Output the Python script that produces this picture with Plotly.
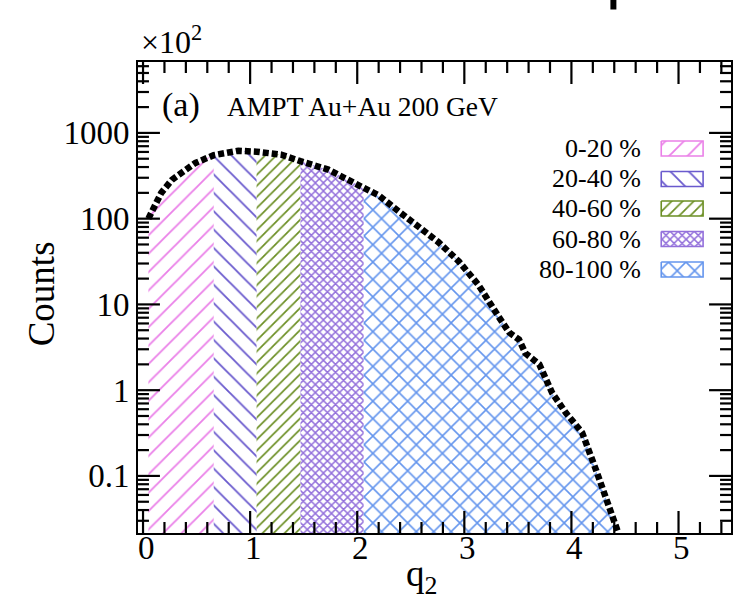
import numpy as np
import plotly.graph_objects as go

# ---------------- data (counts in units of 10^2) ----------------
q2 = [0.05, 0.17, 0.27, 0.49, 0.66, 0.89, 1.06, 1.29, 1.47, 1.73, 2.06, 2.20, 2.39,
      2.57, 2.76, 2.95, 3.13, 3.32, 3.42, 3.51, 3.57, 3.70, 3.82, 3.95, 4.10, 4.23,
      4.32, 4.43]
counts = [100, 200, 284, 447, 550, 620, 604, 558, 468, 373, 229, 187, 121,
          81, 53, 31.6, 17, 7.2, 4.7, 3.9, 2.7, 2.0, 0.93, 0.54, 0.32, 0.117,
          0.056, 0.023]

classes = ["0-20 %", "20-40 %", "40-60 %", "60-80 %", "80-100 %"]
class_edges = [0.05, 0.66, 1.06, 1.47, 2.06, 4.43]   # q2 boundaries of the classes

x_ticks = [0, 1, 2, 3, 4, 5]
y_ticks = [0.1, 1, 10, 100, 1000]

# ---------------- styles ----------------
colors = ["#ea80e8", "#6a5acd", "#6b8e23", "#9370db", "#6495ed"]
patterns = [
    dict(shape="/", size=13, solidity=0.14),
    dict(shape="\\", size=13, solidity=0.14),
    dict(shape="/", size=7.8, solidity=0.22),
    dict(shape="x", size=5.7, solidity=0.45),
    dict(shape="x", size=12.3, solidity=0.24),
]
FONT = "Liberation Serif"

W, H = 735, 607
L, R, T, B = 138, 2, 62, 74
PW, PH = W - L - R, H - T - B
XMIN, XMAX = -0.047, 5.49
YMIN, YMAX = float(np.log10(0.0216)), 3.827
MAJ_LEN, MIN_LEN = 22, 11


def pxx(xp):          # pixel -> paper
    return (xp - L) / PW


def pxy(yp):
    return (H - B - yp) / PH


def dx(xp):           # pixel -> data
    return XMIN + (xp - L) / PW * (XMAX - XMIN)


def dy(yp):
    return 10 ** (YMIN + (H - B - yp) / PH * (YMAX - YMIN))


q = np.array(q2, dtype=float)
c = np.array(counts, dtype=float)
base = dy(H)          # a level below the bottom of the frame

fig = go.Figure()

# hatched regions, one per class
for i, name in enumerate(classes):
    a, b = class_edges[i], class_edges[i + 1]
    m = (q >= a - 1e-9) & (q <= b + 1e-9)
    xs = [q[m][0]] + list(q[m]) + [q[m][-1]]
    ys = [base] + list(c[m]) + [base]
    fig.add_trace(go.Scatter(
        x=xs, y=ys, mode="none", fill="toself",
        fillcolor="rgba(0,0,0,0)",
        fillpattern=dict(fgcolor=colors[i], bgcolor="rgba(0,0,0,0)",
                         fillmode="replace", **patterns[i]),
        showlegend=False, hoverinfo="skip"))

# total distribution: thick black dotted line
fig.add_trace(go.Scatter(
    x=q, y=c, mode="lines",
    line=dict(color="black", width=6.5, dash="6px,3px"),
    showlegend=False, hoverinfo="skip"))

# ---------------- hand-drawn legend ----------------
row_y = [148.5, 179, 208.5, 239, 269.5]
bx0, bx1, bh = 663, 705, 15
for i, name in enumerate(classes):
    yc = row_y[i]
    xs = [dx(bx0), dx(bx1), dx(bx1), dx(bx0), dx(bx0)]
    ys = [dy(yc - bh / 2), dy(yc - bh / 2), dy(yc + bh / 2), dy(yc + bh / 2), dy(yc - bh / 2)]
    fig.add_trace(go.Scatter(
        x=xs, y=ys, mode="lines", fill="toself",
        line=dict(color=colors[i], width=1.6),
        fillcolor="rgba(0,0,0,0)",
        fillpattern=dict(fgcolor=colors[i], bgcolor="rgba(0,0,0,0)",
                         fillmode="replace", **patterns[i]),
        showlegend=False, hoverinfo="skip"))

# ---------------- tick marks (inside, on all four sides), as one line trace ----------------
tx, ty = [], []
x_bot, x_top = H - B, T                 # pixel rows of the frame
y_left, y_right = L, W - R              # pixel columns of the frame
for k in range(0, 28):
    v = round(k * 0.2, 6)
    if XMIN < v < XMAX:
        ln = MAJ_LEN if abs(v - round(v)) < 1e-9 else MIN_LEN
        tx += [v, v, None, v, v, None]
        ty += [dy(x_bot), dy(x_bot - ln), None, dy(x_top), dy(x_top + ln), None]
for e in range(-2, 4):
    for m_ in range(1, 10):
        v = m_ * 10.0 ** e
        if YMIN < np.log10(v) < YMAX:
            ln = MAJ_LEN if m_ == 1 else MIN_LEN
            tx += [dx(y_left), dx(y_left + ln), None, dx(y_right), dx(y_right - ln), None]
            ty += [v, v, None, v, v, None]
fig.add_trace(go.Scatter(
    x=tx, y=ty, mode="lines", line=dict(color="black", width=2.2),
    connectgaps=False, showlegend=False, hoverinfo="skip"))

annotations = []
for i, name in enumerate(classes):
    annotations.append(dict(
        text=name, xref="paper", yref="paper", x=pxx(645), y=pxy(row_y[i]),
        xanchor="right", yanchor="middle", showarrow=False,
        font=dict(family=FONT, size=26, color="black")))

# x tick labels, placed on the x axis scale
for v in x_ticks:
    annotations.append(dict(
        text=str(v), xref="x", yref="paper", x=v, y=pxy(548), xshift=3,
        xanchor="center", yanchor="middle", showarrow=False,
        font=dict(family=FONT, size=33, color="black")))

annotations += [
    dict(text="(a)", xref="paper", yref="paper", x=pxx(160), y=pxy(105),
         xanchor="left", yanchor="middle", showarrow=False,
         font=dict(family=FONT, size=34, color="black")),
    dict(text="AMPT Au+Au 200 GeV", xref="paper", yref="paper", x=pxx(225), y=pxy(106),
         xanchor="left", yanchor="middle", showarrow=False,
         font=dict(family=FONT, size=27.5, color="black")),
    dict(text="×10<sup>2</sup>", xref="paper", yref="paper", x=pxx(139), y=pxy(40),
         xanchor="left", yanchor="middle", showarrow=False,
         font=dict(family=FONT, size=32, color="black")),
    dict(text="Counts", xref="paper", yref="paper", x=pxx(41), y=pxy(294),
         xanchor="center", yanchor="middle", textangle=-90, showarrow=False,
         font=dict(family=FONT, size=37, color="black")),
    dict(text="q<sub>2</sub>", xref="paper", yref="paper", x=pxx(422), y=pxy(576),
         xanchor="center", yanchor="middle", showarrow=False,
         font=dict(family=FONT, size=37, color="black")),
]

# fragment of a neighbouring label cut by the top edge
shapes = [dict(type="rect", xref="paper", yref="paper",
               x0=pxx(612), x1=pxx(618), y0=pxy(9.5), y1=pxy(0),
               fillcolor="black", line=dict(width=0))]

axis_common = dict(
    showline=True, linecolor="black", linewidth=2, mirror=True,
    ticks="", showgrid=False, zeroline=False,
    tickfont=dict(family=FONT, size=33, color="black"),
)

fig.update_layout(
    width=W, height=H,
    margin=dict(l=L, r=R, t=T, b=B),
    paper_bgcolor="white", plot_bgcolor="white",
    showlegend=False,
    annotations=annotations,
    shapes=shapes,
    xaxis=dict(range=[XMIN, XMAX], showticklabels=False, **axis_common),
    yaxis=dict(type="log", range=[YMIN, YMAX], tickmode="array", tickvals=y_ticks,
               ticktext=[str(v) for v in y_ticks], **axis_common),
)

fig.write_html("out.html")
